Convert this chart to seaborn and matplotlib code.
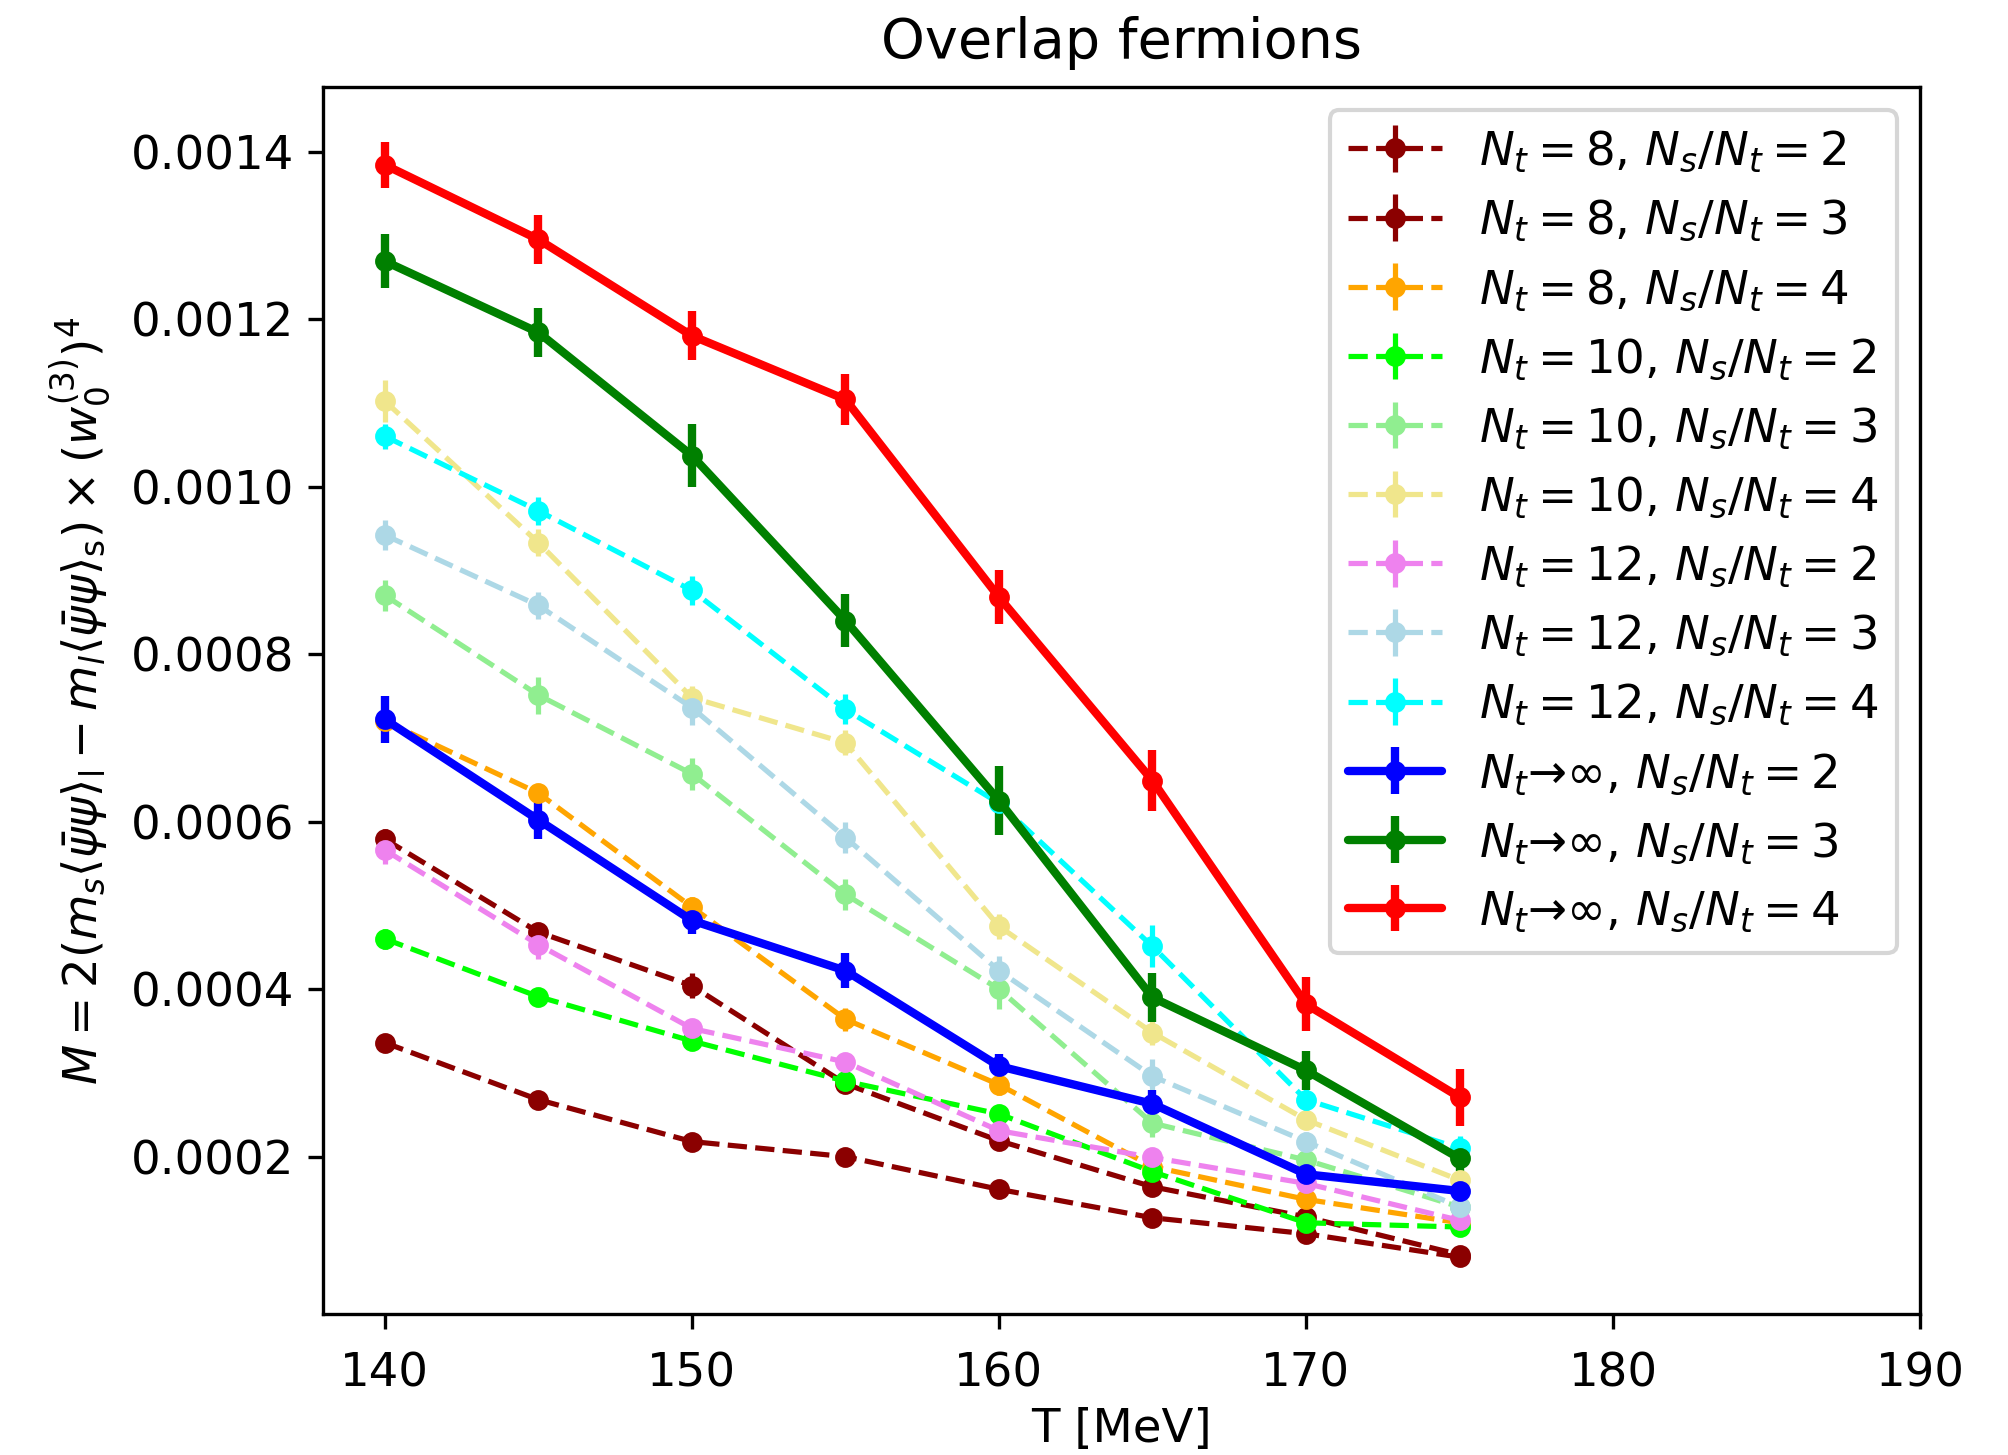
import matplotlib
matplotlib.use("Agg")
import matplotlib.pyplot as plt
import seaborn as sns

# Plain white style with all four spines, like the original figure
sns.set_style("ticks")
plt.rcParams.update({
    "font.family": ["DejaVu Sans"],
    "font.size": 11.2,
    "axes.edgecolor": "black",
    "axes.labelcolor": "black",
    "text.color": "black",
    "xtick.color": "black",
    "ytick.color": "black",
    "axes.linewidth": 0.8,
    "xtick.major.size": 3.5,
    "ytick.major.size": 3.5,
    "xtick.major.width": 0.8,
    "ytick.major.width": 0.8,
    "xtick.major.pad": 5.3,
    "mathtext.fontset": "dejavusans",
})

# Temperatures [MeV]
T = [140, 145, 150, 155, 160, 165, 170, 175]

# N_t = 8
nt8_ns2 = [0.000336, 0.000268, 0.000218, 0.000200, 0.000161, 0.000127, 0.000108, 0.000080]
nt8_ns2_err = [0.000005, 0.000005, 0.000005, 0.000005, 0.000004, 0.000004, 0.000004, 0.000003]
nt8_ns3 = [0.000579, 0.000468, 0.000404, 0.000287, 0.000219, 0.000164, 0.000128, 0.000083]
nt8_ns3_err = [0.000012, 0.000010, 0.000015, 0.000010, 0.000008, 0.000008, 0.000006, 0.000005]
nt8_ns4 = [0.000720, 0.000634, 0.000498, 0.000364, 0.000286, 0.000188, 0.000149, 0.000121]
nt8_ns4_err = [0.000010, 0.000010, 0.000012, 0.000014, 0.000012, 0.000010, 0.000008, 0.000006]

# N_t = 10
nt10_ns2 = [0.000460, 0.000391, 0.000338, 0.000290, 0.000251, 0.000182, 0.000121, 0.000116]
nt10_ns2_err = [0.000012, 0.000008, 0.000008, 0.000008, 0.000008, 0.000008, 0.000006, 0.000005]
nt10_ns3 = [0.000870, 0.000751, 0.000657, 0.000513, 0.000400, 0.000240, 0.000196, 0.000140]
nt10_ns3_err = [0.000018, 0.000022, 0.000019, 0.000019, 0.000024, 0.000017, 0.000012, 0.000008]
nt10_ns4 = [0.001102, 0.000933, 0.000748, 0.000694, 0.000475, 0.000348, 0.000244, 0.000172]
nt10_ns4_err = [0.000025, 0.000016, 0.000014, 0.000015, 0.000015, 0.000015, 0.000010, 0.000010]

# N_t = 12
nt12_ns2 = [0.000566, 0.000453, 0.000353, 0.000313, 0.000231, 0.000199, 0.000168, 0.000124]
nt12_ns2_err = [0.000017, 0.000017, 0.000010, 0.000010, 0.000008, 0.000008, 0.000006, 0.000005]
nt12_ns3 = [0.000942, 0.000858, 0.000736, 0.000581, 0.000422, 0.000296, 0.000218, 0.000140]
nt12_ns3_err = [0.000018, 0.000016, 0.000021, 0.000019, 0.000018, 0.000020, 0.000012, 0.000010]
nt12_ns4 = [0.001060, 0.000971, 0.000876, 0.000734, 0.000622, 0.000451, 0.000268, 0.000210]
nt12_ns4_err = [0.000015, 0.000017, 0.000017, 0.000018, 0.000018, 0.000025, 0.000015, 0.000015]

# continuum extrapolations
inf_ns2 = [0.000722, 0.000602, 0.000482, 0.000422, 0.000308, 0.000263, 0.000179, 0.000159]
inf_ns2_err = [0.000028, 0.000023, 0.000016, 0.000021, 0.000015, 0.000017, 0.000010, 0.000008]
inf_ns3 = [0.001269, 0.001184, 0.001037, 0.000840, 0.000625, 0.000390, 0.000303, 0.000198]
inf_ns3_err = [0.000032, 0.000029, 0.000038, 0.000032, 0.000041, 0.000029, 0.000023, 0.000015]
inf_ns4 = [0.001384, 0.001295, 0.001180, 0.001104, 0.000868, 0.000649, 0.000382, 0.000271]
inf_ns4_err = [0.000027, 0.000029, 0.000029, 0.000030, 0.000032, 0.000036, 0.000032, 0.000034]

series = [
    (nt8_ns2, nt8_ns2_err, "darkred", "--", r"$N_t=8$, $N_s/N_t=2$"),
    (nt8_ns3, nt8_ns3_err, "darkred", "--", r"$N_t=8$, $N_s/N_t=3$"),
    (nt8_ns4, nt8_ns4_err, "orange", "--", r"$N_t=8$, $N_s/N_t=4$"),
    (nt10_ns2, nt10_ns2_err, "lime", "--", r"$N_t=10$, $N_s/N_t=2$"),
    (nt10_ns3, nt10_ns3_err, "lightgreen", "--", r"$N_t=10$, $N_s/N_t=3$"),
    (nt10_ns4, nt10_ns4_err, "khaki", "--", r"$N_t=10$, $N_s/N_t=4$"),
    (nt12_ns2, nt12_ns2_err, "violet", "--", r"$N_t=12$, $N_s/N_t=2$"),
    (nt12_ns3, nt12_ns3_err, "lightblue", "--", r"$N_t=12$, $N_s/N_t=3$"),
    (nt12_ns4, nt12_ns4_err, "cyan", "--", r"$N_t=12$, $N_s/N_t=4$"),
    (inf_ns2, inf_ns2_err, "blue", "-", r"$N_t$→$\infty$, $N_s/N_t=2$"),
    (inf_ns3, inf_ns3_err, "green", "-", r"$N_t$→$\infty$, $N_s/N_t=3$"),
    (inf_ns4, inf_ns4_err, "red", "-", r"$N_t$→$\infty$, $N_s/N_t=4$"),
]

fig = plt.figure(figsize=(2008 / 300, 1455 / 300), dpi=300)
ax = fig.add_axes([0.1611, 0.0966, 0.7951, 0.8436])

for vals, errs, color, ls, label in series:
    lw = 2.0 if ls == "-" else 1.25
    ax.errorbar(T, vals, yerr=errs, color=color, linestyle=ls, linewidth=lw,
                elinewidth=lw, marker="o", markersize=4, capsize=0, label=label)

ax.set_xlim(138.0, 190)
ax.set_ylim(0.0000116, 0.001477)
ax.set_yticks([0.0002, 0.0004, 0.0006, 0.0008, 0.0010, 0.0012, 0.0014])
ax.set_yticklabels(["0.0002", "0.0004", "0.0006", "0.0008", "0.0010", "0.0012", "0.0014"])

ax.set_title("Overlap fermions", fontsize=13.4, pad=7)
ax.set_xlabel("T [MeV]", labelpad=2.5)
ax.set_ylabel(r"$M = 2(m_s\langle\bar{\psi}\psi\rangle_{\rm l} - m_l\langle\bar{\psi}\psi\rangle_{\rm s}) \times (w_0^{(3)})^4$")
ax.legend(loc="upper right", fontsize=11.2)

fig.savefig("out.png", dpi=300)
